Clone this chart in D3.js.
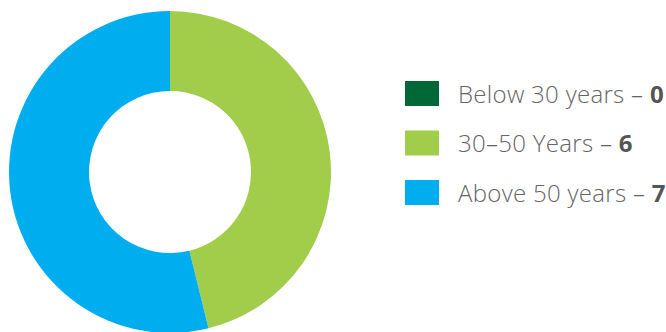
<!DOCTYPE html>
<html>
<head>
<meta charset="utf-8">
<script src="https://cdn.jsdelivr.net/npm/d3@7"></script>
<style>
  body { margin: 0; background: #fff; }
  svg { display: block; }
</style>
</head>
<body>
<div id="chart"></div>
<script>
var categories = ["Below 30 years", "30–50 Years", "Above 50 years"];
var values = [0, 6, 7];
var colours = ["#006837", "#a2cd4a", "#00aeef"];

var width = 666, height = 332;
var svg = d3.select("#chart").append("svg").attr("width", width).attr("height", height);

var data = categories.map(function (c, i) { return {name: c, value: values[i], colour: colours[i]}; });

// donut
var pie = d3.pie().sort(null).value(function (d) { return d.value; });
var arc = d3.arc().innerRadius(81).outerRadius(161);

svg.append("g")
    .attr("transform", "translate(170,172)")
    .selectAll("path")
    .data(pie(data))
    .enter()
    .append("path")
    .attr("d", arc)
    .attr("fill", function (d) { return d.data.colour; });

// legend
var legend = svg.append("g").attr("transform", "translate(405,81)")
    .selectAll("g")
    .data(data)
    .enter()
    .append("g")
    .attr("transform", function (d, i) { return "translate(0," + (i * 49.5) + ")"; });

legend.append("rect")
    .attr("width", 34)
    .attr("height", 25)
    .attr("fill", function (d) { return d.colour; });

var txt = legend.append("text")
    .attr("x", 53)
    .attr("y", 21.5)
    .style("font-family", "'Open Sans', sans-serif")
    .style("font-size", "24px")
    .style("font-weight", 300)
    .style("letter-spacing", "0.3px")
    .attr("fill", "#666");

txt.append("tspan").text(function (d) { return d.name + " – "; });
txt.append("tspan").style("font-weight", 700).attr("fill", "#555").text(function (d) { return d.value; });
</script>
</body>
</html>
